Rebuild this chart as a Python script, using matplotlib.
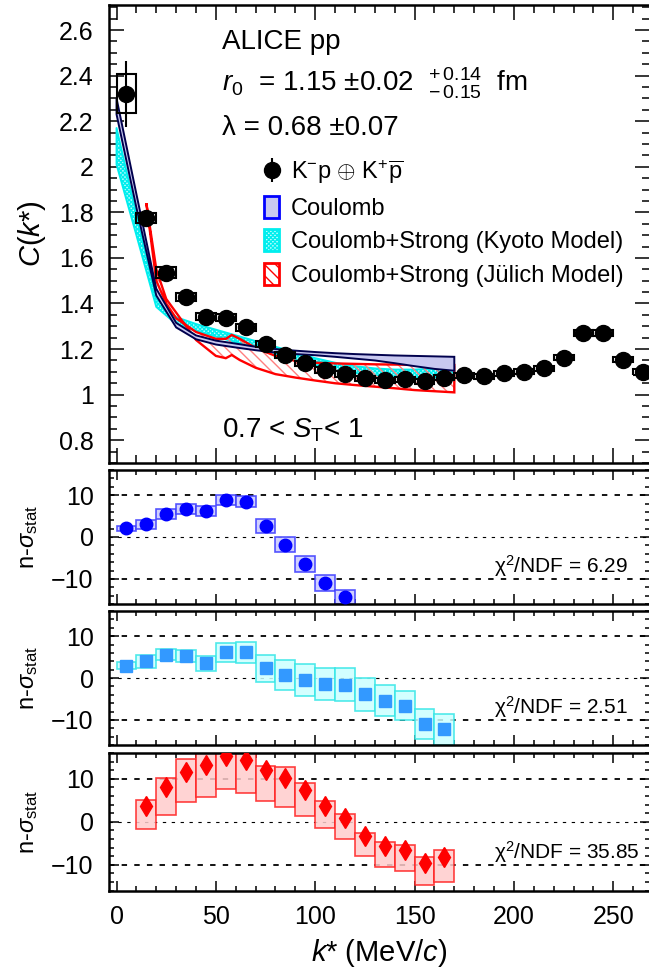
import numpy as np
import matplotlib.pyplot as plt
from matplotlib.patches import Rectangle, Patch

plt.rcParams['font.family'] = ['Liberation Sans', 'DejaVu Sans']
plt.rcParams['mathtext.fontset'] = 'custom'
plt.rcParams['mathtext.rm'] = 'Liberation Sans'
plt.rcParams['mathtext.it'] = 'Liberation Sans:italic'
plt.rcParams['mathtext.bf'] = 'Liberation Sans:bold'
plt.rcParams['hatch.linewidth'] = 1.0

# ---- data: correlation function K-p (+cc) ----
k_data = [5, 15, 25, 35, 45, 55, 65, 75, 85, 95, 105, 115, 125, 135, 145, 155, 165,
          175, 185, 195, 205, 215, 225, 235, 245, 255, 265]
c_data = [2.32, 1.776, 1.535, 1.43, 1.342, 1.338, 1.295, 1.222, 1.174, 1.137, 1.108, 1.09,
          1.071, 1.064, 1.067, 1.059, 1.074, 1.086, 1.08, 1.094, 1.10, 1.116, 1.162, 1.27,
          1.27, 1.154, 1.10]
c_stat = [0.146, 0.012, 0.010, 0.008, 0.007, 0.007, 0.006, 0.006, 0.006, 0.006, 0.006, 0.006,
          0.006, 0.006, 0.006, 0.006, 0.006, 0.006, 0.006, 0.006, 0.006, 0.006, 0.006, 0.006,
          0.006, 0.006, 0.006]
c_syst = [0.086, 0.022, 0.024, 0.017, 0.015, 0.015, 0.014, 0.013, 0.012, 0.012, 0.012, 0.012,
          0.011, 0.011, 0.011, 0.011, 0.011, 0.011, 0.011, 0.011, 0.011, 0.011, 0.012, 0.012,
          0.012, 0.012, 0.012]

# ---- model bands ----
k_band = [0, 10, 20, 30, 40, 50, 60, 70, 80, 90, 100, 110, 120, 130, 140, 150, 160, 170]
coul_hi = [2.30, 1.88, 1.465, 1.315, 1.26, 1.237, 1.224, 1.21, 1.20, 1.193, 1.187, 1.182,
           1.178, 1.175, 1.172, 1.17, 1.168, 1.166]
coul_lo = [2.23, 1.82, 1.435, 1.295, 1.243, 1.22, 1.207, 1.195, 1.185, 1.178, 1.173, 1.166,
           1.158, 1.15, 1.138, 1.125, 1.113, 1.105]
kyoto_hi = [2.17, 1.79, 1.42, 1.34, 1.31, 1.285, 1.26, 1.235, 1.21, 1.185, 1.16, 1.14,
            1.125, 1.115, 1.11, 1.11, 1.115, 1.125]
kyoto_lo = [2.01, 1.70, 1.385, 1.31, 1.28, 1.255, 1.23, 1.205, 1.18, 1.155, 1.13, 1.11,
            1.095, 1.085, 1.08, 1.075, 1.075, 1.08]

k_jul = [15, 20, 25, 30, 40, 50, 55, 58, 62, 70, 80, 90, 100, 110, 120, 130, 140, 150, 160, 170]
jul_hi = [1.84, 1.50, 1.40, 1.335, 1.275, 1.245, 1.245, 1.262, 1.245, 1.205, 1.17, 1.148,
          1.14, 1.137, 1.135, 1.133, 1.132, 1.131, 1.13, 1.13]
jul_lo = [1.84, 1.55, 1.42, 1.36, 1.24, 1.17, 1.16, 1.174, 1.152, 1.118, 1.09, 1.075,
          1.062, 1.05, 1.042, 1.035, 1.028, 1.02, 1.015, 1.01]

# ---- n-sigma panels ----
k_ns = [5, 15, 25, 35, 45, 55, 65, 75, 85, 95, 105, 115, 125, 135, 145, 155, 165]
ns_coul = [2.1, 3.0, 5.55, 6.7, 6.2, 8.9, 8.4, 2.6, -1.8, -6.4, -11.0, -14.3]
ns_coul_err = [0.6, 1.15, 1.15, 1.2, 1.15, 1.2, 1.35, 1.6, 1.8, 1.9, 1.9, 1.7]
ns_kyoto = [2.9, 4.0, 5.6, 5.3, 3.5, 6.1, 6.1, 2.3, 0.8, -0.5, -1.4, -1.6, -3.9, -5.4,
            -6.6, -11.0, -12.2]
ns_kyoto_err = [0.85, 1.5, 1.4, 1.5, 1.8, 2.2, 2.6, 3.2, 3.6, 3.9, 3.9, 3.9, 3.9, 3.7,
                3.5, 3.5, 3.7]
ns_jul = [3.7, 8.0, 11.5, 13.2, 15.2, 14.4, 12.1, 10.3, 7.4, 3.7, 0.85, -3.3, -5.6, -6.6,
          -9.5, -8.3]
ns_jul_hi = [5.1, 10.3, 14.6, 16.0, 16.0, 16.0, 13.0, 12.8, 9.1, 4.9, 1.8, -2.5, -4.8,
             -5.4, -8.1, -6.6]
ns_jul_lo = [-1.7, 1.6, 4.5, 5.7, 7.6, 6.8, 4.9, 3.5, 1.4, -1.5, -4.0, -7.9, -10.5, -11.4,
             -14.6, -14.1]
chi2 = ['6.29', '2.51', '35.85']

bw = 10.0
W, H = 649, 968
fig = plt.figure(figsize=(W / 100, H / 100), dpi=100)


def axes_px(x0, x1, y0, y1):
    return fig.add_axes([x0 / W, 1 - y1 / H, (x1 - x0) / W, (y1 - y0) / H])


xl = (-3.8, 268.5)
ax = axes_px(109, 650, 5, 463)
p1 = axes_px(109, 650, 470, 604)
p2 = axes_px(109, 650, 611, 745)
p3 = axes_px(109, 650, 753, 891)

for a in [ax, p1, p2, p3]:
    a.set_xlim(*xl)
    for s in a.spines.values():
        s.set_linewidth(1.8)
    a.set_xticks(np.arange(0, 300, 50))
    a.set_xticks(np.arange(0, 270, 10), minor=True)
    a.tick_params(which='both', direction='in', top=True, right=True, width=1.1,
                  labelsize=18)
    a.tick_params(axis='y', pad=11)
    a.tick_params(axis='x', pad=10)

# ---- top panel ----
ax.set_ylim(0.7, 2.71)
ax.set_yticks(np.arange(0.8, 2.61, 0.2))
ax.set_yticks(np.arange(0.7, 2.71, 0.05), minor=True)
ax.set_yticklabels(['%g' % round(v, 1) for v in np.arange(0.8, 2.61, 0.2)])
ax.tick_params(which='major', length=11)
ax.tick_params(which='minor', length=6)
ax.tick_params(labelbottom=False)

kb = np.array(k_band)
ax.fill_between(kb, kyoto_lo, kyoto_hi, facecolor='#c0ffff', edgecolor='#00eeee',
                hatch='xxxxxxxx', lw=1.4, zorder=2)
kj = np.array(k_jul)
ax.fill_between(kj, jul_lo, jul_hi, facecolor='none', edgecolor='#ff8080',
                hatch='\\\\\\', lw=0, zorder=2.3)
ax.fill(np.r_[kj, kj[::-1]], np.r_[jul_hi, jul_lo[::-1]], facecolor='none',
        edgecolor='red', lw=1.7, zorder=2.6)
ax.fill(np.r_[kb, kb[::-1]], np.r_[coul_hi, coul_lo[::-1]], facecolor='#c8c8f0',
        edgecolor='#00004d', lw=1.4, zorder=3)

for k, c, s in zip(k_data, c_data, c_syst):
    ax.add_patch(Rectangle((k - bw / 2, c - s), bw, 2 * s, facecolor='none',
                           edgecolor='black', lw=1.5, zorder=4))
eb = ax.errorbar(k_data, c_data, yerr=c_stat, fmt='o', color='black', ms=11.5,
                 elinewidth=1.5, capsize=0, zorder=5)

ax.set_ylabel(r'$C(k$*$)$', fontsize=21, labelpad=8)

tx = (222 - 109) / 541
ax.text(tx, 0.919, 'ALICE pp', transform=ax.transAxes, fontsize=20, va='center')
ax.text(tx, 0.83, r'$r_{0}$  = 1.15 $\pm$0.02  $^{+\,0.14}_{-\,0.15}$  fm',
        transform=ax.transAxes, fontsize=20, va='center')
ax.text(tx, 0.731, '\u03bb = 0.68 \u00b10.07', transform=ax.transAxes, fontsize=20,
        va='center')
ax.text(tx, 0.071, r'0.7 < $S_{\rm T}$< 1', transform=ax.transAxes, fontsize=20, va='center')

handles = [eb,
           Patch(facecolor='#c8c8f0', edgecolor='#0000ff', lw=2),
           Patch(facecolor='#c0ffff', edgecolor='#00eeee', hatch='xxxxxxxx', lw=2),
           Patch(facecolor='white', edgecolor='red', hatch='\\\\\\', lw=2)]
labels = [r'K$^{-}$p $\oplus$ K$^{+}\overline{\rm p}$', 'Coulomb',
          'Coulomb+Strong (Kyoto Model)', 'Coulomb+Strong (J\u00fclich Model)']
ax.legend(handles, labels, loc='upper left', bbox_to_anchor=((264 - 109) / 541, 0.665),
          frameon=False, fontsize=17, handlelength=0.65, handleheight=1.05,
          handletextpad=0.5, labelspacing=0.4, borderpad=0, borderaxespad=0)

# ---- n-sigma panels ----
panels = [
    (p1, ns_coul, [-e for e in ns_coul_err], ns_coul_err, 'o', '#0000ff', '#c8c8ff', '#3a3aff',
     (-15.4, 15.6), 9),
    (p2, ns_kyoto, [-e for e in ns_kyoto_err], ns_kyoto_err, 's', '#3399ff', '#ccffff',
     '#33e6e6', (-15.3, 15.5), 9),
    (p3, ns_jul, None, None, 'd', '#ff0000', '#ffcccc', '#ff2020', (-16.1, 15.6), 10),
]
for i, (a, ns, lo, hi, mk, mc, fc, ec, yl, ms) in enumerate(panels):
    a.set_ylim(*yl)
    a.set_yticks([-10, 0, 10])
    a.set_yticks(np.arange(-16, 16.1, 2), minor=True)
    a.tick_params(which='major', length=7)
    a.tick_params(which='minor', length=3.5)
    a.axhline(10, color='black', ls=(0, (3, 4)), lw=1.3, zorder=1)
    a.axhline(-10, color='black', ls=(0, (3, 4)), lw=1.3, zorder=1)
    a.axhline(0, color='black', ls=(0, (3, 5)), lw=0.8, zorder=1)
    if i == 2:
        kk = k_ns[1:]
        bl = ns_jul_lo
        bh = ns_jul_hi
    else:
        kk = k_ns[:len(ns)]
        bl = [v + e for v, e in zip(ns, lo)]
        bh = [v + e for v, e in zip(ns, hi)]
    for k, l, h in zip(kk, bl, bh):
        a.add_patch(Rectangle((k - bw / 2, l), bw, h - l, facecolor=fc, edgecolor=ec,
                              lw=1.2, alpha=0.85, zorder=2))
    a.plot(kk, ns, mk, color=mc, ms=ms, mec=mc, zorder=4)
    a.text(190, -7, '\u03c7$^{2}$/NDF = ' + chi2[i], fontsize=15, va='center', zorder=5)
    a.set_ylabel(r'n-$\sigma_{\rm stat}$', fontsize=17, labelpad=8)
    if i < 2:
        a.tick_params(labelbottom=False)

p3.set_xlabel(r'$k$* (MeV/$c$)', fontsize=21, labelpad=6)

fig.align_ylabels([ax, p1, p2, p3])
fig.savefig('out.png', dpi=100)
